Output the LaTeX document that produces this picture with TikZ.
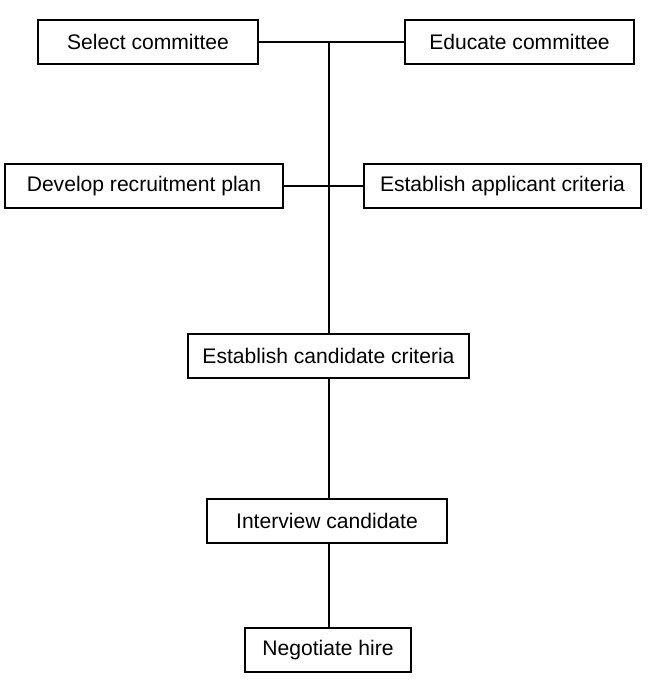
\documentclass[tikz,border=0pt]{standalone}
\usepackage{fontspec}
\setmainfont{Liberation Sans}
\usepackage{tikz}

\begin{document}
\begin{tikzpicture}[
  box/.style={draw, line width=0.8pt, minimum height=0.88cm, inner sep=0pt,
    font=\fontsize{12}{14}\selectfont}
]
  \useasboundingbox (0,0) rectangle (12.98,-13.88);

  % Top row
  \node[box, minimum width=4.40cm] (sel) at (2.96,-0.84) {Select committee};
  \node[box, minimum width=4.58cm] (edu) at (10.39,-0.84) {Educate committee};

  % Second row
  \node[box, minimum width=5.56cm] (dev) at (2.88,-3.72) {Develop recruitment plan};
  \node[box, minimum width=5.54cm] (app) at (10.05,-3.72) {Establish applicant criteria};

  % Main column
  \node[box, minimum width=5.62cm] (cand) at (6.57,-7.12) {Establish candidate criteria};
  \node[box, minimum width=4.80cm] (intv) at (6.54,-10.42) {Interview candidate};
  \node[box, minimum width=3.32cm] (neg) at (6.56,-13.00) {Negotiate hire};

  \coordinate (top) at (6.58,-0.84);

  % Connectors
  \draw[line width=0.8pt] (sel.east) -- (edu.west);
  \draw[line width=0.8pt] (dev.east) -- (app.west);
  \draw[line width=0.8pt] (top) -- (top |- cand.north);
  \draw[line width=0.8pt] (cand.south -| top) -- (intv.north -| top);
  \draw[line width=0.8pt] (intv.south -| top) -- (neg.north -| top);
\end{tikzpicture}
\end{document}
